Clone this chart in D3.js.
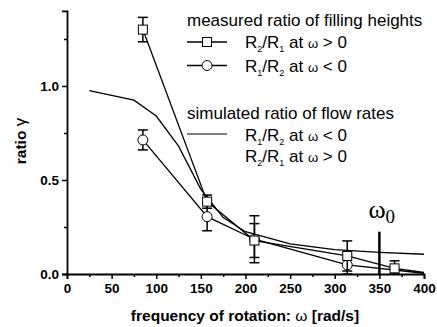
<!DOCTYPE html>
<html lang="en">
<head>
    <meta charset="UTF-8">
    <title>Ratio vs frequency of rotation</title>
    <script src="https://d3js.org/d3.v7.min.js"></script>
    <style>
        body { margin: 0; background: #fff; }
        text { font-family: "Liberation Sans", Arial, sans-serif; fill: #000; }
        .tick-label { font-size: 13.5px; font-weight: bold; }
        .legend { font-size: 17px; }
        .axis-title { font-size: 15.5px; font-weight: bold; }
    </style>
</head>
<body>
    <div id="chart"></div>

    <script>
        // measured R2/R1 at w > 0 (squares)
        const sqOmega = [85, 157, 210, 314, 367];
        const sqRatio = [1.30, 0.385, 0.178, 0.096, 0.03];
        const sqErr = [0.065, 0.035, 0.09, 0.08, 0.04];
        const sqTail = [400, 0.008];

        // measured R1/R2 at w < 0 (circles)
        const ciOmega = [85, 157, 210, 314];
        const ciRatio = [0.713, 0.305, 0.185, 0.048];
        const ciErr = [0.053, 0.075, 0.125, 0.05];
        const ciTail = [400, 0.004];

        // simulated flow-rate ratio
        const simOmega = [25, 75, 100, 125, 150, 175, 200, 250, 300, 350, 400];
        const simRatio = [0.975, 0.925, 0.84, 0.68, 0.45, 0.30, 0.225, 0.16, 0.13, 0.115, 0.105];

        const xTicks = [0, 50, 100, 150, 200, 250, 300, 350, 400];
        const xMinor = [25, 75, 125, 175, 225, 275, 325, 375];
        const yTicks = [0, 0.5, 1.0];
        const yMinor = [0.25, 0.75, 1.25];
        const omega0 = 350;

        const width = 437;
        const height = 327;

        const svg = d3.select("#chart")
            .append("svg")
            .attr("width", width)
            .attr("height", height);

        const x = d3.scaleLinear().domain([0, 400]).range([67, 424]);
        const y = d3.scaleLinear().domain([0, 1.4]).range([274, 274 - 1.4 * 188]);

        // axes
        const yAxis = d3.axisLeft(y).tickValues(yTicks).tickSize(5).tickPadding(3)
            .tickFormat(d3.format(".1f"));
        const yAxisMinor = d3.axisLeft(y).tickValues(yMinor).tickSize(3).tickFormat("");
        const xAxis = d3.axisBottom(x).tickValues(xTicks).tickSize(5).tickPadding(4)
            .tickFormat(d3.format("d"));
        const xAxisMinor = d3.axisBottom(x).tickValues(xMinor).tickSize(3).tickFormat("");

        svg.append("g").attr("transform", `translate(${x(0)},0)`).call(yAxis);
        svg.append("g").attr("transform", `translate(${x(0)},0)`).call(yAxisMinor)
            .select(".domain").remove();
        svg.append("g").attr("transform", `translate(0,${y(0)})`).call(xAxis);
        svg.append("g").attr("transform", `translate(0,${y(0)})`).call(xAxisMinor)
            .select(".domain").remove();

        svg.selectAll(".domain").attr("stroke-width", 1.8).attr("stroke", "#000");
        svg.selectAll(".tick line").attr("stroke-width", 1.5).attr("stroke", "#000");
        svg.selectAll(".tick text").attr("class", "tick-label").attr("font-family", null)
            .attr("font-size", null);

        // omega_0 marker
        svg.append("line")
            .attr("x1", x(omega0)).attr("x2", x(omega0))
            .attr("y1", y(0)).attr("y2", y(0.225))
            .attr("stroke", "#000").attr("stroke-width", 2.5);
        const w0 = svg.append("text")
            .attr("x", x(omega0) - 11).attr("y", 218)
            .style("font-family", "'Liberation Serif', 'Times New Roman', serif")
            .style("font-size", "26px");
        w0.append("tspan").text("ω");
        w0.append("tspan").attr("dy", 5).style("font-size", "19px").text("0");

        const line = d3.line().x(d => x(d[0])).y(d => y(d[1]));

        // simulated curve
        svg.append("path")
            .datum(d3.zip(simOmega, simRatio))
            .attr("d", line)
            .attr("fill", "none").attr("stroke", "#000").attr("stroke-width", 1.3);

        function drawSeries(om, ra, er, tail, shape) {
            const pts = d3.zip(om, ra);
            svg.append("path")
                .datum(pts.concat([tail]))
                .attr("d", line)
                .attr("fill", "none").attr("stroke", "#000").attr("stroke-width", 1.3);

            const g = svg.append("g");
            pts.forEach((p, i) => {
                const cx = x(p[0]);
                const top = y(p[1] + er[i]);
                const bot = y(Math.max(0, p[1] - er[i]));
                g.append("line").attr("x1", cx).attr("x2", cx).attr("y1", top).attr("y2", bot)
                    .attr("stroke", "#000").attr("stroke-width", 1.5);
                [top, bot].forEach(yy => {
                    g.append("line").attr("x1", cx - 5).attr("x2", cx + 5)
                        .attr("y1", yy).attr("y2", yy)
                        .attr("stroke", "#000").attr("stroke-width", 1.5);
                });
            });

            pts.forEach(p => {
                if (shape === "square") {
                    g.append("rect")
                        .attr("x", x(p[0]) - 4.5).attr("y", y(p[1]) - 4.5)
                        .attr("width", 9).attr("height", 9)
                        .attr("fill", "#fff").attr("stroke", "#000").attr("stroke-width", 1);
                } else {
                    g.append("circle")
                        .attr("cx", x(p[0])).attr("cy", y(p[1])).attr("r", 5)
                        .attr("fill", "#fff").attr("stroke", "#000").attr("stroke-width", 1);
                }
            });
        }

        drawSeries(ciOmega, ciRatio, ciErr, ciTail, "circle");
        drawSeries(sqOmega, sqRatio, sqErr, sqTail, "square");

        // legend
        const lg = svg.append("g").attr("class", "legend");

        function ratioText(yPos, a, b, rest) {
            const t = lg.append("text").attr("x", 245).attr("y", yPos);
            t.append("tspan").text("R");
            t.append("tspan").attr("dy", 4).style("font-size", "9px").text(a);
            t.append("tspan").attr("dy", -4).text("/R");
            t.append("tspan").attr("dy", 4).style("font-size", "9px").text(b);
            t.append("tspan").attr("dy", -4).text(" at ");
            t.append("tspan").style("font-size", "13px").text("ω");
            t.append("tspan").text(rest);
        }

        lg.append("text").attr("x", 187).attr("y", 26).text("measured ratio of filling heights");

        [[42, "square"], [65.5, "circle"]].forEach(([ly, shape]) => {
            lg.append("line").attr("x1", 187).attr("x2", 227).attr("y1", ly).attr("y2", ly)
                .attr("stroke", "#000").attr("stroke-width", 1.3);
            if (shape === "square") {
                lg.append("rect").attr("x", 202.5).attr("y", ly - 4.5).attr("width", 9).attr("height", 9)
                    .attr("fill", "#fff").attr("stroke", "#000");
            } else {
                lg.append("circle").attr("cx", 207).attr("cy", ly).attr("r", 5)
                    .attr("fill", "#fff").attr("stroke", "#000");
            }
        });
        ratioText(48, "2", "1", " > 0");
        ratioText(71.5, "1", "2", " < 0");

        lg.append("text").attr("x", 187).attr("y", 118.5).text("simulated ratio of flow rates");
        lg.append("line").attr("x1", 187).attr("x2", 227).attr("y1", 134).attr("y2", 134)
            .attr("stroke", "#000").attr("stroke-width", 1);
        ratioText(140.5, "1", "2", " < 0");
        ratioText(162, "2", "1", " > 0");

        // axis titles
        const xt = svg.append("text").attr("class", "axis-title")
            .attr("x", 245).attr("y", 321).attr("text-anchor", "middle");
        xt.append("tspan").text("frequency of rotation: ");
        xt.append("tspan").style("font-weight", "normal").text("ω");
        xt.append("tspan").text(" [rad/s]");

        const yt = svg.append("text").attr("class", "axis-title")
            .attr("transform", "translate(26,141) rotate(-90)").attr("text-anchor", "middle");
        yt.append("tspan").text("ratio ");
        yt.append("tspan").style("font-weight", "normal").style("font-size", "17px").text("γ");
    </script>
</body>
</html>
